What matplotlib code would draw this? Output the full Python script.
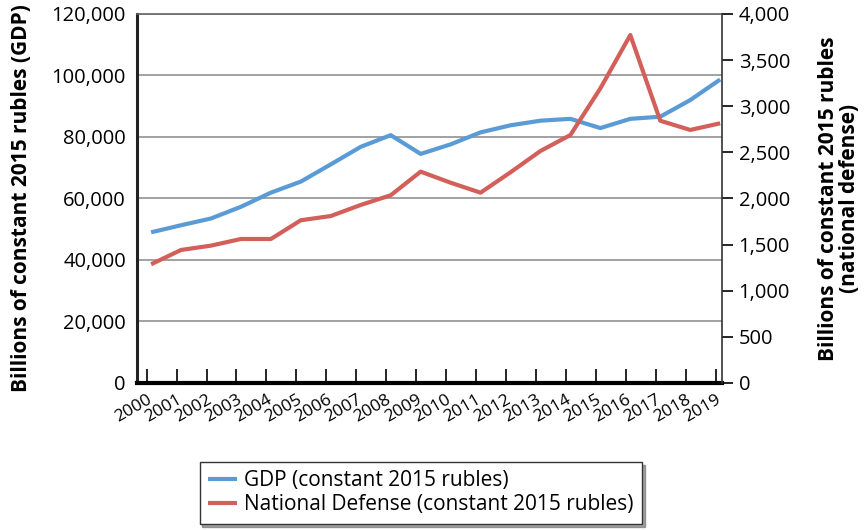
import matplotlib
matplotlib.use('Agg')
import matplotlib.pyplot as plt
from matplotlib.ticker import FuncFormatter

plt.rcParams['font.family'] = ['Open Sans', 'DejaVu Sans']

# data
years = list(range(2000, 2020))
gdp = [49000, 51300, 53500, 57300, 61900, 65500, 71100, 76800, 80600, 74500,
       77600, 81500, 83800, 85300, 85900, 82900, 85900, 86600, 92000, 98700]
defense = [1287, 1442, 1489, 1561, 1561, 1764, 1810, 1930, 2035, 2291,
           2171, 2063, 2284, 2515, 2688, 3194, 3772, 2843, 2743, 2815]

blue = '#5b9bd5'
red = '#d35f5b'

fig = plt.figure(figsize=(8.64, 5.3), dpi=100)
ax = fig.add_axes([0.1586, 0.2774, 0.677, 0.6962])
ax2 = ax.twinx()

x = list(range(len(years)))
l1, = ax.plot(x, gdp, color=blue, lw=3, solid_capstyle='butt')
l2, = ax2.plot(x, defense, color=red, lw=3, solid_capstyle='butt')

ax.set_xlim(-0.47, 19.06)
ax.set_ylim(0, 120000)
ax2.set_ylim(0, 4000)

ax.set_yticks(range(0, 120001, 20000))
ax.yaxis.set_major_formatter(FuncFormatter(lambda v, p: f'{int(v):,}'))
ax2.set_yticks(range(0, 4001, 500))
ax2.yaxis.set_major_formatter(FuncFormatter(lambda v, p: f'{int(v):,}'))

ax.grid(axis='y', color='#9a9a9a', lw=1.3)
ax.set_axisbelow(True)

ax.set_xticks([i - 0.15 for i in x])
ax.set_xticklabels([str(y) for y in years], rotation=30, ha='right',
                   rotation_mode='anchor', fontsize=12.5)
ax.tick_params(axis='x', direction='in', length=10, width=1.2, pad=6)
ax.tick_params(axis='y', length=0, labelsize=14.5, pad=8)
ax2.tick_params(axis='y', direction='out', length=8, width=1.2, labelsize=14.5, pad=4)

ax.spines['bottom'].set_linewidth(3)
ax.spines['left'].set_linewidth(2.2)
ax.spines['left'].set_color('#222222')
ax.spines['top'].set_color('#666666')
ax.spines['top'].set_linewidth(1.2)
for s in ['top', 'bottom', 'left']:
    ax2.spines[s].set_visible(False)
ax2.spines['right'].set_color('#333333')
ax2.spines['right'].set_linewidth(1.2)
ax.spines['right'].set_visible(False)

ax.set_ylabel('Billions of constant 2015 rubles (GDP)', fontsize=15,
              fontweight='bold', labelpad=14)
ax2.set_ylabel('Billions of constant 2015 rubles\n(national defense)',
               fontsize=15, fontweight='bold', labelpad=20,
               rotation=90, linespacing=1.0)

leg = fig.legend([l1, l2], ['GDP (constant 2015 rubles)',
                            'National Defense (constant 2015 rubles)'],
                 loc='upper left', bbox_to_anchor=(0.219, 0.148),
                 frameon=True, fancybox=False, shadow=True, fontsize=15,
                 handlelength=1.4, handletextpad=0.35, borderpad=0.4,
                 labelspacing=0.15)
leg.get_frame().set_edgecolor('#333333')
leg.get_frame().set_linewidth(1.0)

fig.savefig('out.png', dpi=100)
